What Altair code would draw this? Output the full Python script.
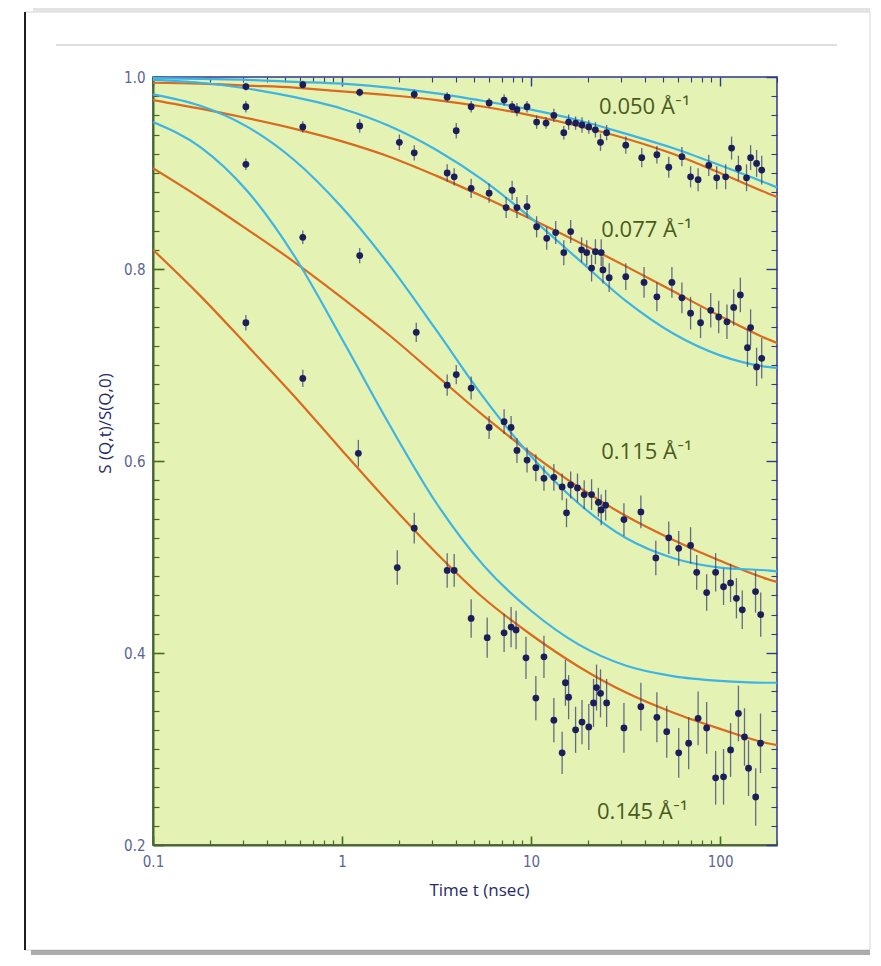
import altair as alt
import pandas as pd

# ---------------- data ----------------
# fit curves (orange = fitted model, blue = alternative model), sampled on T_FIT (nsec)
T_FIT = [0.1, 0.178, 0.316, 0.562, 1, 1.78, 3.16, 5.62, 10, 17.8, 31.6, 56.2, 100, 178, 200]

ORANGE_050 = [0.994, 0.993, 0.991, 0.989, 0.985, 0.981, 0.976, 0.969, 0.960, 0.949, 0.936, 0.920, 0.900, 0.879, 0.875]
BLUE_050 = [0.999, 0.998, 0.997, 0.995, 0.993, 0.989, 0.983, 0.975, 0.966, 0.955, 0.941, 0.926, 0.908, 0.889, 0.885]
ORANGE_077 = [0.976, 0.967, 0.957, 0.946, 0.933, 0.917, 0.897, 0.875, 0.852, 0.828, 0.803, 0.777, 0.751, 0.727, 0.723]
BLUE_077 = [0.997, 0.994, 0.988, 0.979, 0.967, 0.949, 0.924, 0.892, 0.853, 0.810, 0.767, 0.733, 0.710, 0.698, 0.697]
ORANGE_115 = [0.905, 0.874, 0.841, 0.807, 0.770, 0.731, 0.689, 0.647, 0.608, 0.573, 0.543, 0.518, 0.496, 0.477, 0.474]
BLUE_115 = [0.982, 0.970, 0.948, 0.913, 0.864, 0.804, 0.736, 0.666, 0.605, 0.556, 0.520, 0.499, 0.489, 0.486, 0.485]
ORANGE_145 = [0.820, 0.772, 0.720, 0.667, 0.611, 0.556, 0.504, 0.457, 0.419, 0.386, 0.359, 0.338, 0.321, 0.306, 0.304]
BLUE_145 = [0.953, 0.927, 0.881, 0.813, 0.727, 0.638, 0.556, 0.491, 0.444, 0.409, 0.387, 0.376, 0.371, 0.369, 0.369]

# measured points: time (nsec), S(Q,t)/S(Q,0), error
T_050 = [0.31, 0.62, 1.24, 2.41, 3.60, 4.82, 6.0, 7.2, 7.94, 8.42, 9.52, 10.7, 12.0, 13.2, 14.9, 15.8, 17.2, 18.6, 20.2, 21.9, 23.3, 25.1, 31.7, 38.5, 46.3, 53.5, 62.8, 69.8, 76.5, 87.1, 95.9, 107, 115, 125, 138, 145, 156, 166]
S_050 = [0.990, 0.992, 0.984, 0.982, 0.979, 0.969, 0.973, 0.976, 0.969, 0.966, 0.969, 0.953, 0.952, 0.960, 0.942, 0.953, 0.952, 0.950, 0.948, 0.945, 0.932, 0.942, 0.929, 0.916, 0.919, 0.906, 0.917, 0.896, 0.893, 0.908, 0.895, 0.896, 0.926, 0.905, 0.895, 0.916, 0.910, 0.903]
E_050 = [0.004, 0.004, 0.004, 0.005, 0.005, 0.006, 0.005, 0.006, 0.006, 0.007, 0.006, 0.007, 0.006, 0.007, 0.007, 0.008, 0.007, 0.008, 0.007, 0.008, 0.009, 0.008, 0.009, 0.010, 0.009, 0.011, 0.010, 0.011, 0.012, 0.011, 0.012, 0.013, 0.012, 0.013, 0.014, 0.013, 0.014, 0.015]

T_077 = [0.31, 0.62, 1.24, 2.01, 2.41, 3.60, 3.92, 4.02, 4.82, 6.0, 7.38, 7.94, 8.42, 9.52, 10.7, 12.1, 13.5, 14.9, 16.2, 18.5, 19.7, 20.9, 21.9, 23.5, 24.0, 25.9, 31.7, 39.6, 46.3, 55.6, 62.8, 69.8, 78.8, 89.2, 98.3, 108.7, 118, 128, 139.6, 145, 156, 166]
S_077 = [0.969, 0.948, 0.949, 0.932, 0.921, 0.900, 0.896, 0.944, 0.884, 0.879, 0.864, 0.882, 0.864, 0.865, 0.844, 0.832, 0.838, 0.817, 0.839, 0.820, 0.817, 0.801, 0.818, 0.817, 0.799, 0.791, 0.792, 0.786, 0.771, 0.786, 0.770, 0.754, 0.744, 0.757, 0.750, 0.745, 0.760, 0.773, 0.718, 0.739, 0.698, 0.707]
E_077 = [0.006, 0.006, 0.007, 0.008, 0.008, 0.009, 0.009, 0.008, 0.010, 0.010, 0.011, 0.010, 0.011, 0.012, 0.011, 0.012, 0.012, 0.013, 0.012, 0.013, 0.013, 0.014, 0.013, 0.014, 0.014, 0.015, 0.014, 0.016, 0.015, 0.016, 0.016, 0.017, 0.016, 0.018, 0.017, 0.018, 0.019, 0.018, 0.020, 0.019, 0.020, 0.021]

T_115 = [0.31, 0.62, 1.24, 2.47, 3.60, 4.02, 4.82, 6.0, 7.2, 7.84, 8.42, 9.52, 10.6, 11.7, 13.2, 14.6, 15.4, 16.2, 17.6, 19.1, 20.9, 22.7, 23.5, 24.8, 31.0, 38.1, 45.7, 53.5, 60.4, 69.8, 75.2, 84.9, 94.7, 104.3, 113.6, 122, 131, 154, 164]
S_115 = [0.909, 0.833, 0.814, 0.734, 0.679, 0.690, 0.676, 0.635, 0.641, 0.635, 0.611, 0.601, 0.593, 0.582, 0.583, 0.573, 0.546, 0.575, 0.572, 0.565, 0.565, 0.557, 0.549, 0.554, 0.539, 0.547, 0.499, 0.520, 0.509, 0.512, 0.484, 0.463, 0.484, 0.469, 0.473, 0.457, 0.445, 0.464, 0.440]
E_115 = [0.006, 0.007, 0.008, 0.010, 0.011, 0.010, 0.012, 0.012, 0.013, 0.012, 0.013, 0.013, 0.014, 0.013, 0.014, 0.014, 0.015, 0.014, 0.015, 0.015, 0.016, 0.015, 0.016, 0.016, 0.017, 0.017, 0.018, 0.017, 0.018, 0.019, 0.018, 0.019, 0.020, 0.019, 0.020, 0.021, 0.020, 0.022, 0.023]

T_145 = [0.31, 0.62, 1.22, 1.96, 2.41, 3.60, 3.92, 4.82, 5.86, 7.2, 7.84, 8.33, 9.4, 10.6, 11.7, 13.2, 14.6, 15.2, 15.8, 17.2, 18.6, 20.2, 21.4, 22.2, 23.3, 25.1, 31.0, 38.1, 46.3, 52.2, 60.4, 68.2, 76.5, 84.9, 94.7, 104.3, 113.6, 125, 134.6, 141.4, 154.3, 163.6]
S_145 = [0.744, 0.686, 0.608, 0.489, 0.530, 0.486, 0.486, 0.436, 0.416, 0.421, 0.427, 0.424, 0.395, 0.353, 0.396, 0.330, 0.296, 0.369, 0.354, 0.320, 0.328, 0.323, 0.348, 0.364, 0.358, 0.348, 0.322, 0.344, 0.333, 0.318, 0.296, 0.306, 0.332, 0.322, 0.270, 0.271, 0.299, 0.337, 0.3125, 0.280, 0.250, 0.306]
E_145 = [0.008, 0.009, 0.014, 0.018, 0.016, 0.018, 0.017, 0.020, 0.021, 0.020, 0.021, 0.020, 0.022, 0.023, 0.022, 0.023, 0.022, 0.024, 0.023, 0.024, 0.023, 0.024, 0.025, 0.024, 0.025, 0.025, 0.026, 0.025, 0.026, 0.027, 0.026, 0.027, 0.028, 0.027, 0.028, 0.029, 0.028, 0.029, 0.030, 0.029, 0.030, 0.031]

Q_LABELS = ["0.050 Å⁻¹", "0.077 Å⁻¹", "0.115 Å⁻¹", "0.145 Å⁻¹"]
LABEL_T = [22.9, 23.5, 23.5, 22.3]
LABEL_S = [0.969, 0.841, 0.609, 0.234]

X_MAJOR = [0.1, 1, 10, 100]
X_MINOR = [0.2, 0.3, 0.4, 0.5, 0.6, 0.7, 0.8, 0.9, 2, 3, 4, 5, 6, 7, 8, 9,
           20, 30, 40, 50, 60, 70, 80, 90, 200]
Y_MAJOR = [0.2, 0.4, 0.6, 0.8, 1.0]
Y_MINOR = [0.22, 0.24, 0.26, 0.28, 0.3, 0.32, 0.34, 0.36, 0.38,
           0.42, 0.44, 0.46, 0.48, 0.5, 0.52, 0.54, 0.56, 0.58,
           0.62, 0.64, 0.66, 0.68, 0.7, 0.72, 0.74, 0.76, 0.78,
           0.82, 0.84, 0.86, 0.88, 0.9, 0.92, 0.94, 0.96, 0.98]

# ---------------- tables ----------------
series = [
    ("0.050", T_050, S_050, E_050, ORANGE_050, BLUE_050),
    ("0.077", T_077, S_077, E_077, ORANGE_077, BLUE_077),
    ("0.115", T_115, S_115, E_115, ORANGE_115, BLUE_115),
    ("0.145", T_145, S_145, E_145, ORANGE_145, BLUE_145),
]
fit_rows, pt_rows = [], []
for q, ts, ss, es, orr, bl in series:
    for ti, oi, bi in zip(T_FIT, orr, bl):
        fit_rows.append({"q": q, "t": ti, "v": oi, "fit": "orange"})
        fit_rows.append({"q": q, "t": ti, "v": bi, "fit": "blue"})
    for ti, si, ei in zip(ts, ss, es):
        pt_rows.append({"q": q, "t": ti, "s": si, "lo": si - ei, "hi": si + ei})
fit_df = pd.DataFrame(fit_rows)
pt_df = pd.DataFrame(pt_rows)
lab_df = pd.DataFrame({"t": LABEL_T, "s": LABEL_S, "label": Q_LABELS})

W, H = 624, 768
XS = alt.Scale(type="log", domain=[0.1, 200], nice=False)
YS = alt.Scale(domain=[0.2, 1.0], nice=False, zero=False)

GREEN = "#466a1e"
BLUE_AX = "#2b3a8f"
LABEL_FONT = "Liberation Sans Narrow, DejaVu Sans Condensed, Liberation Sans, sans-serif"
TEXT_FONT = "Open Sans, Lato, sans-serif"

x_main = alt.Axis(orient="bottom", values=X_MAJOR, format="~g", ticks=False,
                  domain=True, domainColor=GREEN, domainWidth=2, grid=False,
                  labelFlush=False, labelOverlap=False,
                  labelFont=LABEL_FONT, labelFontSize=15, labelColor="#5b6592",
                  labelPadding=9, title="Time t (nsec)", titleFont=TEXT_FONT,
                  titleFontSize=17, titleFontWeight="normal", titleColor="#262b66",
                  titleX=326, titleY=45, titleBaseline="middle")
y_main = alt.Axis(orient="left", values=Y_MAJOR, format=".1f", ticks=False,
                  domain=True, domainColor=GREEN, domainWidth=2, grid=False,
                  labelFlush=False, labelOverlap=False,
                  labelFont=LABEL_FONT, labelFontSize=15, labelColor="#5b6592",
                  labelPadding=8, title="S (Q,t)/S(Q,0)", titleFont=TEXT_FONT,
                  titleFontSize=17, titleFontWeight="normal", titleColor="#262b66",
                  titleX=-48, titleY=346, titleAngle=270, titleBaseline="middle",
                  titleAlign="center")


def tick_axis(orient, values, size, color, width):
    return alt.Axis(orient=orient, values=values, labels=False, domain=False,
                    ticks=True, tickSize=size, offset=-size, tickColor=color,
                    tickWidth=width, grid=False, title="")


# decorative page card
one = alt.Data(values=[{}])
card = alt.Chart(one).mark_rect(fillOpacity=0, stroke="#d4d4d4", strokeWidth=1).encode(
    x=alt.value(-128), x2=alt.value(717), y=alt.value(-65), y2=alt.value(873))
card_top = alt.Chart(one).mark_rule(color="#c8c8c8", strokeWidth=5, opacity=0.5).encode(
    x=alt.value(-120), x2=alt.value(717), y=alt.value(-68))
card_left = alt.Chart(one).mark_rule(color="#1e1e1e", strokeWidth=2).encode(
    x=alt.value(-128), y=alt.value(-65), y2=alt.value(873))
card_bottom = alt.Chart(one).mark_rule(color="#777777", strokeWidth=6, opacity=0.6).encode(
    x=alt.value(-122), x2=alt.value(717), y=alt.value(876))
card_sep = alt.Chart(one).mark_rule(color="#dedede", strokeWidth=2).encode(
    x=alt.value(-97), x2=alt.value(684), y=alt.value(-32))

lines = alt.Chart(fit_df).mark_line(strokeWidth=2.2, interpolate="monotone", clip=True).encode(
    x=alt.X("t:Q", scale=XS, axis=x_main),
    y=alt.Y("v:Q", scale=YS, axis=y_main),
    color=alt.Color("fit:N", scale=alt.Scale(domain=["blue", "orange"],
                                             range=["#3db4e4", "#d96a1e"]), legend=None),
    detail="q:N",
    order=alt.Order("t:Q"),
)

errs = alt.Chart(pt_df).mark_rule(color="#3a3e70", strokeWidth=1.3, opacity=0.75).encode(
    x=alt.X("t:Q", scale=XS, axis=None),
    y=alt.Y("lo:Q", scale=YS, axis=None),
    y2="hi:Q",
)
pts = alt.Chart(pt_df).mark_circle(size=46, color="#1c1e5c", opacity=1).encode(
    x=alt.X("t:Q", scale=XS, axis=None),
    y=alt.Y("s:Q", scale=YS, axis=None),
)
labels = alt.Chart(lab_df).mark_text(align="left", baseline="middle", font=TEXT_FONT,
                                     fontSize=22, color="#4a5a1c").encode(
    x=alt.X("t:Q", scale=XS, axis=None),
    y=alt.Y("s:Q", scale=YS, axis=None),
    text="label:N",
)


def tick_layer(xo, xv, xs, yo, yv, ys, color, width):
    return alt.Chart(fit_df).mark_point(opacity=0).encode(
        x=alt.X("t:Q", scale=XS, axis=tick_axis(xo, xv, xs, color, width)),
        y=alt.Y("v:Q", scale=YS, axis=tick_axis(yo, yv, ys, color, width)),
    )


t_bl_major = tick_layer("bottom", X_MAJOR, 9, "left", Y_MAJOR, 11, GREEN, 1.6)
t_bl_minor = tick_layer("bottom", X_MINOR, 5, "left", Y_MINOR, 6, GREEN, 1.2)
t_tr_major = tick_layer("top", X_MAJOR, 9, "right", Y_MAJOR, 11, BLUE_AX, 1.4)
t_tr_minor = tick_layer("top", X_MINOR, 5, "right", Y_MINOR, 6, BLUE_AX, 1.1)

chart = alt.layer(
    card_top, card, card_sep, card_left, card_bottom,
    lines, errs, pts, labels,
    t_bl_major, t_bl_minor, t_tr_major, t_tr_minor,
).resolve_axis(x="independent", y="independent").properties(
    width=W, height=H,
    autosize=alt.AutoSizeParams(type="none"),
    padding={"left": 145, "top": 69, "right": 96, "bottom": 110},
    background="white",
).configure_view(fill="#e4f3b4", stroke=BLUE_AX, strokeWidth=1.5)

chart.save("out.html", embed_options={"renderer": "svg", "actions": False})
